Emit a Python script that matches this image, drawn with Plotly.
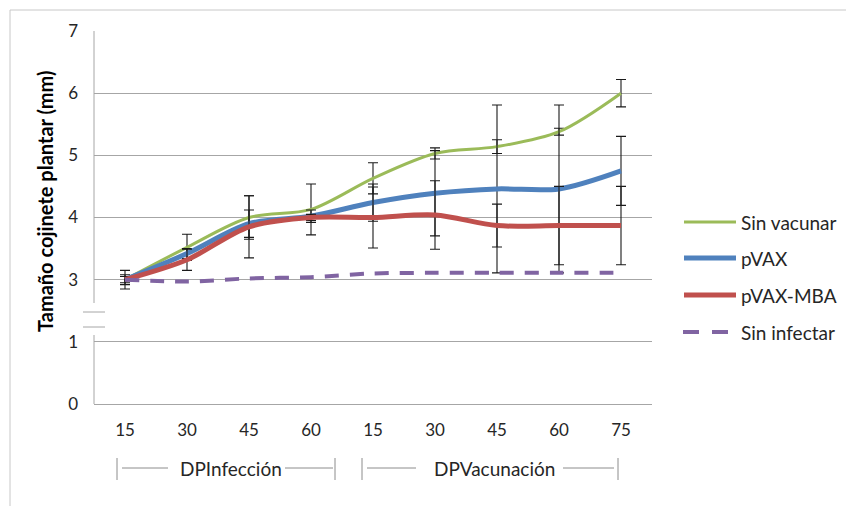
import plotly.graph_objects as go

# Days after infection (first 4) and after vaccination (last 5)
days = ["15", "30", "45", "60", "15", "30", "45", "60", "75"]

sin_vacunar = [3.0, 3.52, 4.0, 4.13, 4.63, 5.03, 5.14, 5.38, 6.0]
sin_vacunar_err = [0.15, 0.21, 0.35, 0.41, 0.25, 0.09, 0.11, 0.055, 0.22]

pvax = [3.0, 3.42, 3.9, 4.02, 4.24, 4.39, 4.46, 4.46, 4.75]
pvax_err = [0.08, 0.08, 0.22, 0.1, 0.3, 0.685, 1.35, 1.35, 0.555]

pvax_mba = [3.0, 3.32, 3.85, 4.0, 4.0, 4.04, 3.87, 3.87, 3.87]
pvax_mba_err = [0.05, 0.17, 0.5, 0.05, 0.49, 0.55, 0.345, 0.63, 0.63]

sin_infectar = [3.0, 2.97, 3.02, 3.04, 3.1, 3.11, 3.11, 3.11, 3.11]

# Broken y axis: values from 2 upward are shifted down by one unit,
# so the tick "3" sits right above "1".
y_tick_labels = ["0", "1", "3", "4", "5", "6", "7"]
BREAK_SHIFT = 1.0

series = [
    ("Sin vacunar", sin_vacunar, sin_vacunar_err, "#9bbb59", 3, "solid"),
    ("pVAX", pvax, pvax_err, "#4f81bd", 5, "solid"),
    ("pVAX-MBA", pvax_mba, pvax_mba_err, "#c0504d", 5, "solid"),
    ("Sin infectar", sin_infectar, None, "#8064a2", 4, "14px,11px"),
]

FONT = "Lato"
TEXT = "#262626"
GRID = "#a6a6a6"

x_idx = list(range(len(days)))

fig = go.Figure()
for name, vals, err, color, width, dash in series:
    trace = dict(
        x=x_idx,
        y=[v - BREAK_SHIFT for v in vals],
        mode="lines",
        name=name,
        line=dict(color=color, width=width, dash=dash, shape="spline", smoothing=0.9),
        showlegend=False,
    )
    if err is not None:
        trace["error_y"] = dict(type="data", array=err, visible=True,
                                color="#1a1a1a", thickness=1.1, width=5)
    fig.add_trace(go.Scatter(**trace))

# Plot-area geometry in pixels, used for paper-coordinate helpers
W, H = 846, 506
L, R, T, B = 94, 652, 31, 404


def px(x):
    return (x - L) / (R - L)


def py(y):
    return (B - y) / (B - T)


shapes = []
annotations = []

# Outer chart frame
shapes.append(dict(type="rect", xref="paper", yref="paper",
                   x0=px(10), x1=px(W + 20), y0=py(H + 20), y1=py(10),
                   line=dict(color="#c8c8c8", width=1), fillcolor="rgba(0,0,0,0)",
                   layer="below"))

# Left axis line with a break between 1 and 3
shapes.append(dict(type="line", xref="paper", yref="paper",
                   x0=0, x1=0, y0=py(B), y1=py(335), line=dict(color=GRID, width=1)))
shapes.append(dict(type="line", xref="paper", yref="paper",
                   x0=0, x1=0, y0=py(303), y1=py(T), line=dict(color=GRID, width=1)))
for yb in (312, 327):
    shapes.append(dict(type="line", xref="paper", yref="paper",
                       x0=px(83), x1=px(105), y0=py(yb), y1=py(yb),
                       line=dict(color=GRID, width=1)))

# Group brackets under the day labels
bracket_color = "#8c8c8c"
groups = [
    ("DPInfección", 117, 168, 178, 283, 285, 333, 335),
    ("DPVacunación", 362, 416, 431, 557, 563, 614, 618),
]
for label, bl, l1, t0, t1, l2, l3, br in groups:
    for xb in (bl, br):
        shapes.append(dict(type="line", xref="paper", yref="paper",
                           x0=px(xb), x1=px(xb), y0=py(458), y1=py(480),
                           line=dict(color=bracket_color, width=1)))
    shapes.append(dict(type="line", xref="paper", yref="paper",
                       x0=px(bl + 5), x1=px(l1), y0=py(468), y1=py(468),
                       line=dict(color=bracket_color, width=1)))
    shapes.append(dict(type="line", xref="paper", yref="paper",
                       x0=px(l2), x1=px(l3), y0=py(468), y1=py(468),
                       line=dict(color=bracket_color, width=1)))
    annotations.append(dict(text=label, xref="paper", yref="paper",
                            x=px((t0 + t1) / 2), y=py(469), xanchor="center",
                            yanchor="middle", showarrow=False,
                            font=dict(family=FONT, size=19, color=TEXT)))

# Y axis title
annotations.append(dict(text="<b>Tamaño cojinete plantar (mm)</b>", xref="paper",
                        yref="paper", x=px(45), y=py(201), textangle=-90,
                        xanchor="center", yanchor="middle", showarrow=False,
                        font=dict(family=FONT, size=20, color="#000000")))

# Legend
legend_rows = [222, 258, 295, 332]
for (name, _, _, color, width, dash), yr in zip(series, legend_rows):
    if dash == "solid":
        shapes.append(dict(type="line", xref="paper", yref="paper",
                           x0=px(684), x1=px(736), y0=py(yr), y1=py(yr),
                           line=dict(color=color, width=width)))
    else:
        for a, b in ((683, 699), (712, 728)):
            shapes.append(dict(type="line", xref="paper", yref="paper",
                               x0=px(a), x1=px(b), y0=py(yr), y1=py(yr),
                               line=dict(color=color, width=width)))
    annotations.append(dict(text=name, xref="paper", yref="paper",
                            x=px(739), y=py(yr), xanchor="left", yanchor="middle",
                            showarrow=False,
                            font=dict(family=FONT, size=19, color=TEXT)))

fig.update_layout(
    width=W, height=H,
    margin=dict(l=L, r=W - R, t=T, b=H - B, pad=0),
    paper_bgcolor="white", plot_bgcolor="white",
    showlegend=False,
    font=dict(family=FONT, size=17, color=TEXT),
    shapes=shapes,
    annotations=annotations,
    xaxis=dict(range=[-0.5, 8.5], tickvals=x_idx, ticktext=days,
               showgrid=False, zeroline=False, showline=True,
               linecolor=GRID, linewidth=1, ticks="", ticklabelstandoff=11,
               tickfont=dict(family=FONT, size=17, color=TEXT), fixedrange=True),
    yaxis=dict(range=[0, 6], tickvals=list(range(7)), ticktext=y_tick_labels,
               showgrid=True, gridcolor=GRID, gridwidth=1, zeroline=False,
               showline=False, ticks="", ticklabelstandoff=15,
               tickfont=dict(family=FONT, size=17, color=TEXT), fixedrange=True),
)

fig.write_html("out.html")
